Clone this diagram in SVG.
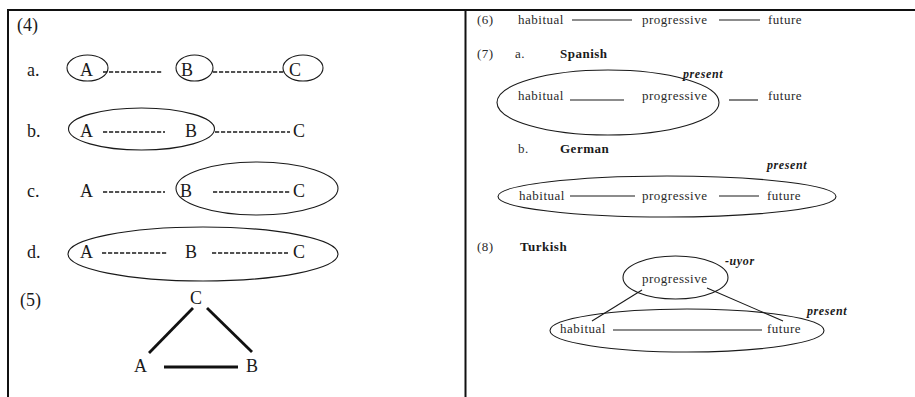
<svg xmlns="http://www.w3.org/2000/svg" width="915" height="397" viewBox="0 0 915 397" font-family="'Liberation Serif', 'DejaVu Serif', serif">
  <style>
    text { font-family: 'Liberation Serif', 'DejaVu Serif', serif; fill: #1a1a1a; }
    .big { font-size: 18px; }
    .sm { font-size: 13px; letter-spacing: 0.5px; fill: #2a2a2a; }
    .hd { font-size: 13px; font-weight: bold; letter-spacing: 0.5px; }
    .it { font-size: 12px; font-weight: bold; font-style: italic; letter-spacing: 0.6px; }
    .ring { fill: none; stroke: #1a1a1a; stroke-width: 1.1; }
    .dash { stroke: #1a1a1a; stroke-width: 1.3; stroke-dasharray: 4.2 1.8; }
    .solid { stroke: #1a1a1a; stroke-width: 1.1; }
    .tri { stroke: #111; stroke-width: 2.8; }
    .frame { stroke: #111; stroke-width: 2; }
  </style>

  <g id="frame">
    <line class="frame" x1="7" y1="10" x2="915" y2="10"/>
    <line class="frame" x1="8" y1="9" x2="8" y2="397"/>
    <line class="frame" x1="465.5" y1="9" x2="465.5" y2="397"/>
  </g>

  <!-- (4) left panel -->
  <g id="ex4-label"><text class="big" x="17" y="31">(4)</text></g>

  <g id="ex4a">
    <text class="big" x="27" y="76">a.</text>
    <ellipse class="ring" cx="87.5" cy="68" rx="20.5" ry="13"/>
    <text class="big" x="80" y="76">A</text>
    <ellipse class="ring" cx="194.5" cy="68" rx="18.5" ry="13"/>
    <text class="big" x="181" y="76">B</text>
    <ellipse class="ring" cx="303" cy="68" rx="20" ry="13"/>
    <text class="big" x="289" y="76">C</text>
  </g>

  <g id="ex4b">
    <text class="big" x="27" y="137">b.</text>
    <ellipse class="ring" cx="141.5" cy="129" rx="73" ry="21"/>
    <text class="big" x="80" y="137">A</text>
    <text class="big" x="185" y="137">B</text>
    <text class="big" x="293" y="137">C</text>
  </g>

  <g id="ex4c">
    <text class="big" x="27" y="197">c.</text>
    <ellipse class="ring" cx="257" cy="188.5" rx="81" ry="26.5"/>
    <text class="big" x="80" y="197">A</text>
    <text class="big" x="180" y="197">B</text>
    <text class="big" x="293" y="197">C</text>
  </g>

  <g id="ex4d">
    <text class="big" x="27" y="258">d.</text>
    <ellipse class="ring" cx="203" cy="254" rx="135" ry="27"/>
    <text class="big" x="80" y="258">A</text>
    <text class="big" x="185" y="258">B</text>
    <text class="big" x="293" y="258">C</text>
  </g>

  <!-- (5) triangle -->
  <g id="ex5">
    <text class="big" x="20" y="306">(5)</text>
    <text class="big" x="190" y="304">C</text>
    <text class="big" x="134" y="372">A</text>
    <text class="big" x="246" y="372">B</text>
  </g>

  <!-- right panel -->
  <g id="ex6">
    <text class="sm" x="477" y="24">(6)</text>
    <text class="sm" x="518" y="24">habitual</text>
    <text class="sm" x="642" y="24">progressive</text>
    <text class="sm" x="768" y="24">future</text>
  </g>

  <g id="ex7a">
    <text class="sm" x="477" y="58">(7)</text>
    <text class="sm" x="515" y="58">a.</text>
    <text class="hd" x="560" y="58">Spanish</text>
    <text class="it" x="683" y="78">present</text>
    <ellipse class="ring" cx="608" cy="102.5" rx="111" ry="32.5"/>
    <text class="sm" x="518" y="100">habitual</text>
    <text class="sm" x="642" y="100">progressive</text>
    <text class="sm" x="768" y="100">future</text>
  </g>

  <g id="ex7b">
    <text class="sm" x="518" y="153">b.</text>
    <text class="hd" x="560" y="153">German</text>
    <text class="it" x="767" y="169">present</text>
    <ellipse class="ring" cx="667" cy="196.5" rx="169" ry="20.5"/>
    <text class="sm" x="519" y="200">habitual</text>
    <text class="sm" x="642" y="200">progressive</text>
    <text class="sm" x="767" y="200">future</text>
  </g>

  <g id="ex8">
    <text class="sm" x="477" y="251">(8)</text>
    <text class="hd" x="520" y="251">Turkish</text>
    <text class="it" x="725" y="265">-uyor</text>
    <ellipse class="ring" cx="675.5" cy="277.5" rx="52.5" ry="21.5"/>
    <text class="sm" x="642" y="283">progressive</text>
    <text class="it" x="807" y="315">present</text>
    <ellipse class="ring" cx="687" cy="330.5" rx="137" ry="21.5"/>
    <text class="sm" x="560" y="333">habitual</text>
    <text class="sm" x="767" y="333">future</text>
  </g>

  <!-- connectors -->
  <g id="connectors">
    <line class="dash" x1="103" y1="72" x2="163" y2="72"/>
    <line class="dash" x1="213" y1="72" x2="284" y2="72"/>
    <line class="dash" x1="103" y1="132" x2="165" y2="132"/>
    <line class="dash" x1="215" y1="132" x2="290" y2="132"/>
    <line class="dash" x1="103" y1="192" x2="165" y2="192"/>
    <line class="dash" x1="213" y1="192" x2="290" y2="192"/>
    <line class="dash" x1="102" y1="253" x2="167" y2="253"/>
    <line class="dash" x1="212" y1="253" x2="288" y2="253"/>

    <line class="tri" x1="193" y1="308" x2="149" y2="353"/>
    <line class="tri" x1="207" y1="308" x2="252" y2="352"/>
    <line class="tri" x1="164" y1="367" x2="238" y2="367"/>

    <line class="solid" x1="572" y1="20" x2="632" y2="20"/>
    <line class="solid" x1="719" y1="20" x2="760" y2="20"/>
    <line class="solid" x1="570" y1="100" x2="624" y2="100"/>
    <line class="solid" x1="729" y1="100" x2="758" y2="100"/>
    <line class="solid" x1="570" y1="196" x2="635" y2="196"/>
    <line class="solid" x1="719" y1="196" x2="759" y2="196"/>
    <line class="solid" x1="642" y1="290" x2="592" y2="321"/>
    <line class="solid" x1="707" y1="288" x2="783" y2="321"/>
    <line class="solid" x1="613" y1="330" x2="762" y2="330"/>
  </g>
</svg>
